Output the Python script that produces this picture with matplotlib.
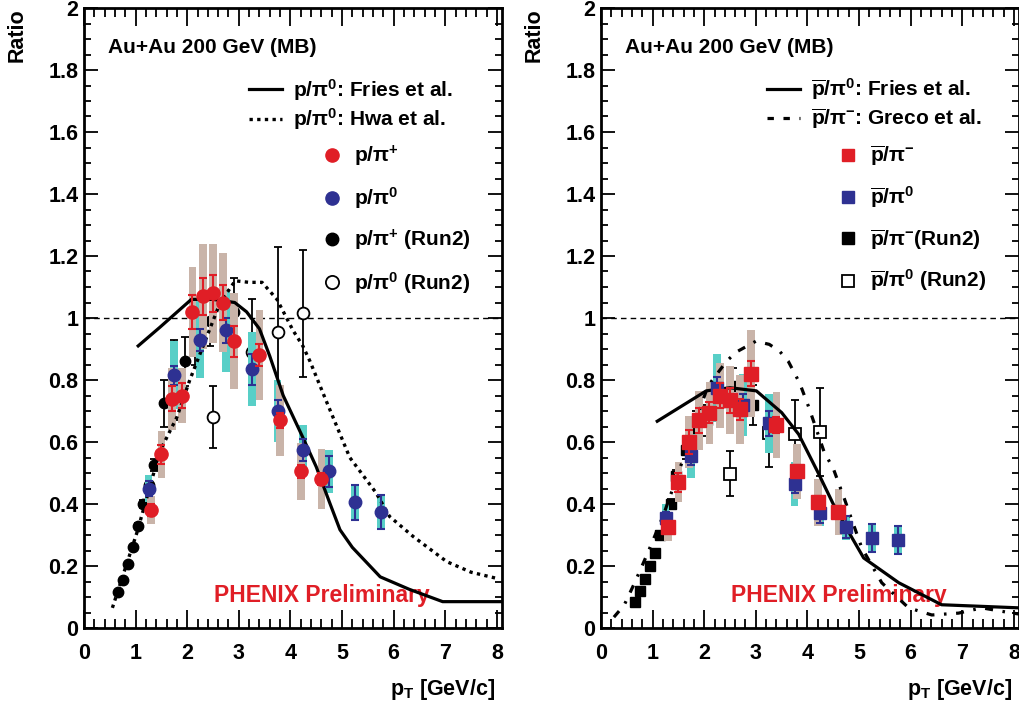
import matplotlib
matplotlib.use('Agg')
import matplotlib.pyplot as plt
from matplotlib.lines import Line2D
from matplotlib.ticker import MultipleLocator

plt.rcParams['font.family'] = ['Liberation Sans', 'DejaVu Sans']
plt.rcParams['font.weight'] = 'bold'
plt.rcParams['mathtext.default'] = 'regular'

RED = '#e01e26'
BLUE = '#2e3192'
TAN = '#c9b4a9'
CYAN = '#58cfc7'

# ---------------- left panel data (p / pi) ----------------
fries_l_x = [1.05, 1.47, 2.08, 2.5, 2.92, 3.15, 3.4, 3.6, 3.86, 4.24, 4.5, 4.77, 4.96, 5.2, 5.74, 6.3, 6.95, 8.1]
fries_l_y = [0.91, 0.97, 1.06, 1.06, 1.05, 1.02, 0.965, 0.877, 0.75, 0.615, 0.52, 0.40, 0.317, 0.26, 0.165, 0.125, 0.085, 0.085]

hwa_x = [0.55, 1.03, 1.47, 1.8, 2.05, 2.38, 2.64, 2.93, 3.2, 3.45, 3.74, 4.05, 4.24, 4.38, 4.7, 5.15, 5.66, 5.92, 6.38, 7.03, 7.5, 8.0]
hwa_y = [0.065, 0.31, 0.57, 0.68, 0.80, 0.94, 1.05, 1.12, 1.115, 1.115, 1.06, 0.96, 0.91, 0.86, 0.73, 0.55, 0.436, 0.36, 0.295, 0.214, 0.18, 0.16]

ppip_x = [1.3, 1.5, 1.7, 1.9, 2.1, 2.3, 2.5, 2.7, 2.9, 3.4, 3.8, 4.2, 4.6]
ppip_y = [0.38, 0.56, 0.74, 0.75, 1.02, 1.07, 1.08, 1.05, 0.925, 0.88, 0.67, 0.505, 0.48]
ppip_stat = [0.02, 0.03, 0.04, 0.04, 0.055, 0.06, 0.06, 0.055, 0.05, 0.035, 0.025, 0.02, 0.02]
ppip_sys = [0.045, 0.075, 0.10, 0.09, 0.145, 0.17, 0.16, 0.16, 0.155, 0.145, 0.115, 0.092, 0.097]

ppi0_x = [1.25, 1.75, 2.25, 2.75, 3.25, 3.75, 4.25, 4.75, 5.25, 5.75]
ppi0_y = [0.45, 0.815, 0.93, 0.96, 0.835, 0.70, 0.575, 0.505, 0.405, 0.375]
ppi0_stat = [0.025, 0.03, 0.035, 0.04, 0.05, 0.035, 0.035, 0.05, 0.055, 0.055]
ppi0_sys = [0.045, 0.11, 0.125, 0.135, 0.12, 0.10, 0.08, 0.07, 0.055, 0.056]

ppip2_x = [0.65, 0.75, 0.85, 0.95, 1.05, 1.15, 1.25, 1.35, 1.55, 1.75, 1.95, 2.15, 2.45, 2.9]
ppip2_y = [0.115, 0.155, 0.205, 0.26, 0.33, 0.40, 0.46, 0.525, 0.725, 0.80, 0.86, 0.93, 0.99, 1.02]
ppip2_err = [0.005, 0.006, 0.007, 0.008, 0.01, 0.012, 0.015, 0.02, 0.075, 0.13, 0.08, 0.08, 0.08, 0.11]

ppi02_x = [2.5, 3.25, 3.75, 4.25]
ppi02_y = [0.68, 0.89, 0.955, 1.015]
ppi02_err = [0.10, 0.17, 0.275, 0.205]

# ---------------- right panel data (pbar / pi) ----------------
fries_r_x = [1.09, 2.04, 2.5, 3.01, 3.5, 3.83, 4.21, 4.5, 4.85, 5.09, 5.77, 6.6, 8.1]
fries_r_y = [0.667, 0.765, 0.775, 0.765, 0.695, 0.625, 0.50, 0.40, 0.295, 0.226, 0.146, 0.075, 0.065]

greco_x = [0.25, 0.45, 0.65, 0.9, 1.2, 1.5, 1.8, 2.07, 2.43, 2.62, 3.0, 3.26, 3.46, 3.63, 3.85, 4.02, 4.33, 4.5, 4.72, 5.05, 5.44, 5.96, 6.41, 6.93, 7.38, 7.83, 8.1]
greco_y = [0.035, 0.074, 0.145, 0.24, 0.36, 0.5, 0.65, 0.78, 0.86, 0.89, 0.925, 0.915, 0.893, 0.86, 0.79, 0.715, 0.565, 0.515, 0.415, 0.26, 0.146, 0.065, 0.042, 0.048, 0.065, 0.052, 0.045]

pbpim_x = [1.3, 1.5, 1.7, 1.9, 2.1, 2.3, 2.5, 2.7, 2.9, 3.4, 3.8, 4.2, 4.6]
pbpim_y = [0.325, 0.47, 0.60, 0.67, 0.695, 0.75, 0.735, 0.705, 0.82, 0.655, 0.505, 0.405, 0.375]
pbpim_stat = [0.02, 0.03, 0.04, 0.04, 0.035, 0.04, 0.04, 0.035, 0.04, 0.025, 0.02, 0.02, 0.02]
pbpim_sys = [0.045, 0.065, 0.085, 0.095, 0.10, 0.105, 0.11, 0.11, 0.14, 0.105, 0.09, 0.075, 0.075]

pbpi0_x = [1.25, 1.75, 2.25, 2.75, 3.25, 3.75, 4.25, 4.75, 5.25, 5.75]
pbpi0_y = [0.355, 0.555, 0.775, 0.72, 0.66, 0.465, 0.37, 0.325, 0.29, 0.285]
pbpi0_stat = [0.02, 0.03, 0.035, 0.035, 0.04, 0.03, 0.03, 0.035, 0.045, 0.045]
pbpi0_sys = [0.045, 0.07, 0.11, 0.10, 0.095, 0.07, 0.04, 0.04, 0.045, 0.045]

pbpim2_x = [0.65, 0.75, 0.85, 0.95, 1.05, 1.15, 1.25, 1.35, 1.45, 1.65, 1.85, 2.05, 2.3, 2.55, 2.95]
pbpim2_y = [0.085, 0.12, 0.157, 0.20, 0.242, 0.30, 0.35, 0.40, 0.49, 0.575, 0.64, 0.67, 0.73, 0.78, 0.72]
pbpim2_err = [0.004, 0.005, 0.006, 0.007, 0.008, 0.01, 0.012, 0.015, 0.02, 0.03, 0.06, 0.05, 0.05, 0.06, 0.065]

pbpi02_x = [2.5, 3.25, 3.75, 4.25]
pbpi02_y = [0.498, 0.63, 0.625, 0.631]
pbpi02_err = [0.072, 0.11, 0.11, 0.142]

yticks = [0, 0.2, 0.4, 0.6, 0.8, 1.0, 1.2, 1.4, 1.6, 1.8, 2.0]
ytick_labels = ['0', '0.2', '0.4', '0.6', '0.8', '1', '1.2', '1.4', '1.6', '1.8', '2']
xticks = [0, 1, 2, 3, 4, 5, 6, 7, 8]

FS = 15.5
BOXW = 0.15

fig = plt.figure(figsize=(10.2, 7.08), dpi=100)
axL = fig.add_axes([84 / 1020, 1 - 628 / 708, 418 / 1020, 620 / 708])
axR = fig.add_axes([601 / 1020, 1 - 628 / 708, 418 / 1020, 620 / 708])


def style(ax):
    ax.set_xlim(0, 8.1)
    ax.set_ylim(0, 2)
    ax.set_xticks(xticks)
    ax.set_yticks(yticks, labels=ytick_labels)
    ax.xaxis.set_minor_locator(MultipleLocator(0.2))
    ax.yaxis.set_minor_locator(MultipleLocator(0.05))
    ax.tick_params(axis='both', which='both', direction='in', top=True, right=True,
                   labelsize=FS, width=1.3)
    ax.tick_params(axis='x', which='major', length=13, pad=11)
    ax.tick_params(axis='x', which='minor', length=6.5)
    ax.tick_params(axis='y', which='major', length=10, pad=4)
    ax.tick_params(axis='y', which='minor', length=5)
    for s in ax.spines.values():
        s.set_linewidth(2.0)
    ax.axhline(1.0, color='k', lw=1.0, ls=(0, (4, 3)), zorder=1)
    ax.text(-0.16, 1.0, 'Ratio', rotation=90, transform=ax.transAxes,
            ha='center', va='top', fontsize=FS, fontweight='bold')
    ax.text(0.983, -0.1, r'p$_{T}$ [GeV/c]', transform=ax.transAxes,
            ha='right', va='center', fontsize=FS, fontweight='bold')
    ax.text(0.058, 0.937, 'Au+Au 200 GeV (MB)', transform=ax.transAxes,
            ha='left', va='center', fontsize=15, fontweight='bold')
    ax.text(4.6, 0.105, 'PHENIX Preliminary', color=RED, ha='center', va='center',
            fontsize=16.5, fontweight='bold')


def series(ax, x, y, stat, sys, boxcolor, color, marker, ms, zb, zm):
    ax.bar(x, [2 * s for s in sys], bottom=[a - s for a, s in zip(y, sys)], width=BOXW,
           color=boxcolor, linewidth=0, zorder=zb)
    ax.errorbar(x, y, yerr=stat, fmt=marker, color=color, ms=ms, mec=color,
                elinewidth=1.5, capsize=3, capthick=1.5, zorder=zm)


style(axL)
style(axR)

LEG_PROP = {'size': 15, 'weight': 'bold'}

# ---------- left ----------
axL.errorbar(ppip2_x, ppip2_y, yerr=ppip2_err, fmt='o', color='k', ms=7.5,
             elinewidth=1.3, capsize=3, capthick=1.3, zorder=2)
axL.errorbar(ppi02_x, ppi02_y, yerr=ppi02_err, fmt='o', color='k', mfc='white', ms=8.5,
             mew=1.3, elinewidth=1.3, capsize=3, capthick=1.3, zorder=2)
series(axL, ppi0_x, ppi0_y, ppi0_stat, ppi0_sys, CYAN, BLUE, 'o', 9, 3, 6)
series(axL, ppip_x, ppip_y, ppip_stat, ppip_sys, TAN, RED, 'o', 9.5, 4, 7)
axL.plot(fries_l_x, fries_l_y, color='k', lw=2.3, zorder=5)
axL.plot(hwa_x, hwa_y, color='k', lw=2.4, ls=(0, (1, 1.3)), zorder=5)

legL1 = axL.legend(handles=[Line2D([], [], color='k', lw=2.3),
                            Line2D([], [], color='k', lw=2.4, ls=(0, (1, 1.3)))],
                   labels=[r'p/π$^{0}$: Fries et al.', r'p/π$^{0}$: Hwa et al.'],
                   loc='upper left', bbox_to_anchor=(0.395, 0.889), frameon=False,
                   borderpad=0, borderaxespad=0, handlelength=1.6, handletextpad=0.5,
                   labelspacing=0.18, prop=LEG_PROP)
axL.add_artist(legL1)
axL.legend(handles=[Line2D([], [], ls='none', marker='o', color=RED, ms=9.5),
                    Line2D([], [], ls='none', marker='o', color=BLUE, ms=9.5),
                    Line2D([], [], ls='none', marker='o', color='k', ms=9),
                    Line2D([], [], ls='none', marker='o', color='k', mfc='white', mew=1.3, ms=9.5)],
           labels=[r'p/π$^{+}$', r'p/π$^{0}$', r'p/π$^{+}$ (Run2)', r'p/π$^{0}$ (Run2)'],
           loc='upper left', bbox_to_anchor=(0.569, 0.781), frameon=False,
           borderpad=0, borderaxespad=0, handlelength=1.0, handletextpad=0.55,
           labelspacing=0.79, prop=LEG_PROP)

# ---------- right ----------
axR.errorbar(pbpim2_x, pbpim2_y, yerr=pbpim2_err, fmt='s', color='k', ms=7,
             elinewidth=1.3, capsize=3, capthick=1.3, zorder=2)
axR.errorbar(pbpi02_x, pbpi02_y, yerr=pbpi02_err, fmt='s', color='k', mfc='white', ms=8,
             mew=1.3, elinewidth=1.3, capsize=3, capthick=1.3, zorder=2)
series(axR, pbpi0_x, pbpi0_y, pbpi0_stat, pbpi0_sys, CYAN, BLUE, 's', 8.5, 3, 6)
series(axR, pbpim_x, pbpim_y, pbpim_stat, pbpim_sys, TAN, RED, 's', 9.5, 4, 7)
axR.plot(fries_r_x, fries_r_y, color='k', lw=2.3, zorder=5)
axR.plot(greco_x, greco_y, color='k', lw=2.3, ls=(0, (2.5, 3, 0.8, 3)), zorder=5)

legR1 = axR.legend(handles=[Line2D([], [], color='k', lw=2.3),
                            Line2D([], [], color='k', lw=2.3, ls=(0, (2, 3)))],
                   labels=[r'$\overline{p}$/π$^{0}$: Fries et al.', r'$\overline{p}$/π$^{-}$: Greco et al.'],
                   loc='upper left', bbox_to_anchor=(0.397, 0.889), frameon=False,
                   borderpad=0, borderaxespad=0, handlelength=1.6, handletextpad=0.5,
                   labelspacing=0.18, prop=LEG_PROP)
axR.add_artist(legR1)
axR.legend(handles=[Line2D([], [], ls='none', marker='s', color=RED, ms=9),
                    Line2D([], [], ls='none', marker='s', color=BLUE, ms=9),
                    Line2D([], [], ls='none', marker='s', color='k', ms=9),
                    Line2D([], [], ls='none', marker='s', color='k', mfc='white', mew=1.3, ms=9)],
           labels=[r'$\overline{p}$/π$^{-}$', r'$\overline{p}$/π$^{0}$',
                   r'$\overline{p}$/π$^{-}$(Run2)', r'$\overline{p}$/π$^{0}$ (Run2)'],
           loc='upper left', bbox_to_anchor=(0.567, 0.781), frameon=False,
           borderpad=0, borderaxespad=0, handlelength=1.0, handletextpad=0.55,
           labelspacing=0.79, prop=LEG_PROP)

fig.savefig('out.png', dpi=100)
